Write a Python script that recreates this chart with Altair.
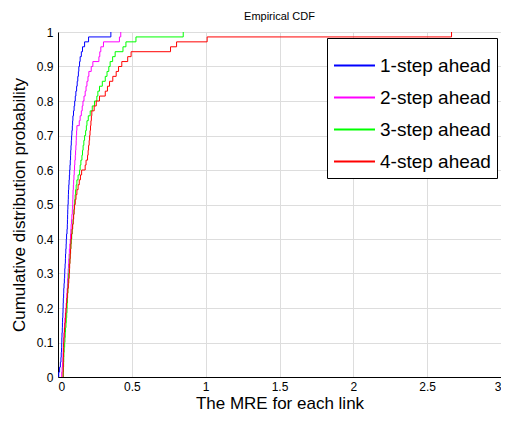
import altair as alt
import pandas as pd

series_names = ["1-step ahead", "2-step ahead", "3-step ahead", "4-step ahead"]
series_colors = ["#0000FF", "#FF00FF", "#00FF00", "#FF0000"]

mre_1 = [0.005, 0.011, 0.016, 0.020, 0.022, 0.024, 0.025, 0.026, 0.027, 0.029,
         0.030, 0.031, 0.033, 0.034, 0.035, 0.036, 0.038, 0.039, 0.041, 0.043,
         0.045, 0.046, 0.048, 0.050, 0.051, 0.053, 0.055, 0.056, 0.058, 0.061,
         0.063, 0.064, 0.065, 0.066, 0.067, 0.069, 0.070, 0.071, 0.073, 0.075,
         0.077, 0.079, 0.081, 0.083, 0.085, 0.086, 0.088, 0.090, 0.092, 0.094,
         0.097, 0.099, 0.101, 0.105, 0.109, 0.113, 0.117, 0.121, 0.126, 0.130,
         0.134, 0.138, 0.141, 0.146, 0.150, 0.158, 0.166, 0.180, 0.207, 0.358]

mre_2 = [0.025, 0.028, 0.031, 0.033, 0.034, 0.035, 0.037, 0.039, 0.041, 0.043,
         0.045, 0.047, 0.050, 0.054, 0.056, 0.058, 0.060, 0.062, 0.064, 0.065,
         0.067, 0.069, 0.071, 0.073, 0.075, 0.077, 0.080, 0.083, 0.085, 0.087,
         0.089, 0.091, 0.094, 0.097, 0.099, 0.100, 0.101, 0.102, 0.104, 0.106,
         0.108, 0.110, 0.112, 0.114, 0.117, 0.119, 0.121, 0.123, 0.124, 0.126,
         0.128, 0.144, 0.150, 0.158, 0.164, 0.169, 0.176, 0.184, 0.190, 0.196,
         0.203, 0.209, 0.225, 0.236, 0.277, 0.283, 0.290, 0.308, 0.416, 0.425]

mre_3 = [0.036, 0.037, 0.038, 0.039, 0.040, 0.042, 0.045, 0.047, 0.049, 0.051,
         0.054, 0.056, 0.059, 0.061, 0.062, 0.064, 0.065, 0.067, 0.069, 0.070,
         0.072, 0.075, 0.077, 0.080, 0.082, 0.085, 0.087, 0.090, 0.093, 0.096,
         0.099, 0.102, 0.105, 0.108, 0.110, 0.113, 0.116, 0.119, 0.123, 0.128,
         0.136, 0.146, 0.150, 0.155, 0.162, 0.166, 0.170, 0.175, 0.180, 0.187,
         0.192, 0.196, 0.205, 0.218, 0.232, 0.247, 0.263, 0.270, 0.281, 0.300,
         0.320, 0.332, 0.344, 0.353, 0.370, 0.387, 0.440, 0.460, 0.528, 0.848]

mre_4 = [0.034, 0.035, 0.036, 0.036, 0.037, 0.038, 0.038, 0.040, 0.042, 0.044,
         0.047, 0.050, 0.052, 0.054, 0.057, 0.060, 0.063, 0.066, 0.070, 0.073,
         0.076, 0.078, 0.079, 0.081, 0.083, 0.085, 0.087, 0.088, 0.091, 0.095,
         0.099, 0.103, 0.106, 0.109, 0.112, 0.117, 0.122, 0.128, 0.136, 0.144,
         0.152, 0.160, 0.184, 0.190, 0.200, 0.204, 0.207, 0.211, 0.214, 0.217,
         0.220, 0.223, 0.226, 0.229, 0.245, 0.259, 0.281, 0.320, 0.335, 0.349,
         0.371, 0.394, 0.410, 0.432, 0.472, 0.495, 0.762, 0.803, 1.010, 2.665]

x_ticks = [0, 0.5, 1, 1.5, 2, 2.5, 3]
y_ticks = [0, 0.1, 0.2, 0.3, 0.4, 0.5, 0.6, 0.7, 0.8, 0.9, 1]

rows = []
for name, vals in zip(series_names, [mre_1, mre_2, mre_3, mre_4]):
    s = sorted(vals)
    n = len(s)
    rows.append({"series": name, "x": s[0], "y": 0.0, "order": 0})
    for i, v in enumerate(s):
        rows.append({"series": name, "x": v, "y": (i + 1) / n, "order": i + 1})
df = pd.DataFrame(rows)

font = "Liberation Sans"

chart = alt.Chart(df).mark_line(interpolate="step-after", strokeWidth=1, clip=True).encode(
    x=alt.X("x:Q", title="The MRE for each link",
            scale=alt.Scale(domain=[0, 3], nice=False),
            axis=alt.Axis(values=x_ticks, format="~g", labelFontSize=12,
                          titleFontSize=17, titleFontWeight="normal",
                          titlePadding=3, ticks=False, labelPadding=4,
                          domainColor="black", grid=True)),
    y=alt.Y("y:Q", title="Cumulative distribution probability",
            scale=alt.Scale(domain=[0, 1], nice=False),
            axis=alt.Axis(values=y_ticks, format="~g", labelFontSize=12,
                          titleFontSize=17, titleFontWeight="normal",
                          titlePadding=8, ticks=False, labelPadding=5,
                          domainColor="black", grid=True)),
    color=alt.Color("series:N",
                    scale=alt.Scale(domain=series_names, range=series_colors),
                    legend=alt.Legend(title=None, orient="none",
                                      legendX=269, legendY=6,
                                      symbolType="stroke", symbolSize=1680,
                                      symbolStrokeWidth=2,
                                      labelFontSize=19, labelFont=font,
                                      labelColor="black",
                                      rowPadding=-16, padding=6,
                                      strokeColor="black", fillColor="white",
                                      labelOffset=4)),
    order="order:Q",
).properties(
    width=443, height=345,
    title=alt.Title("Empirical CDF", fontSize=11, fontWeight="normal",
                    font=font, color="black", offset=4),
    padding={"left": 50, "top": 24, "right": 0, "bottom": 35},
    autosize=alt.AutoSizeParams(type="none"),
).configure_view(
    stroke="black", strokeWidth=1
).configure_axis(
    gridColor="#909090", gridDash=[1, 1], gridWidth=1, gridOpacity=1,
    labelFont=font, titleFont=font, labelColor="black", titleColor="black",
).configure(background="white")

chart.save("out.html", embed_options={"renderer": "svg", "actions": False})
